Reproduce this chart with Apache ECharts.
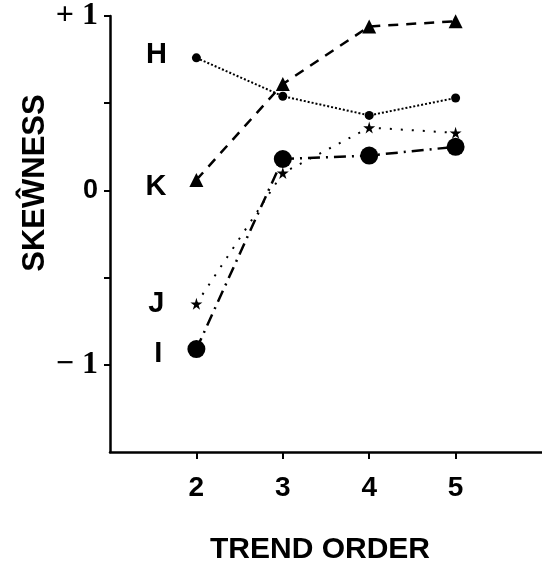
<!DOCTYPE html>
<html>
<head>
<meta charset="utf-8">
<script src="https://cdn.jsdelivr.net/npm/echarts@6/dist/echarts.min.js"></script>
<style>
html, body { margin: 0; padding: 0; background: #fff; }
#main { width: 542px; height: 570px; }
</style>
</head>
<body>
<div id="main"></div>
<script>
// trend order values on the x axis
var xTicks = [2, 3, 4, 5];
var yTicks = [-1, 0, 1];
var yMinorTicks = [-1, -0.5, 0, 0.5, 1];

// skewness for each curve
var seriesH = [0.76, 0.54, 0.43, 0.53];
var seriesK = [0.06, 0.61, 0.94, 0.97];
var seriesJ = [-0.65, 0.10, 0.36, 0.33];
var seriesI = [-0.91, 0.18, 0.20, 0.25];

var starPath = 'path://M50,0 L61,35 L98,35 L68,57 L79,91 L50,70 L21,91 L32,57 L2,35 L39,35 Z';
var fontFam = '"Liberation Sans", Arial, sans-serif';
var serifFam = '"Liberation Serif", "DejaVu Serif", serif';

function pairs(ys, name, dist, dy) {
    var out = [];
    for (var i = 0; i < ys.length; i++) {
        var item = { value: [xTicks[i], ys[i]] };
        if (i === 0) {
            item.label = {
                show: true, position: 'left', distance: dist, offset: [0, dy],
                formatter: name, color: '#000',
                fontFamily: fontFam, fontWeight: 'bold', fontSize: 29
            };
        }
        out.push(item);
    }
    return out;
}

function makeSeries(name, ys, symbol, size, lineType, width, dist, dy) {
    return {
        name: name,
        type: 'line',
        data: pairs(ys, name, dist, dy),
        symbol: symbol,
        symbolSize: size,
        itemStyle: { color: '#000' },
        lineStyle: { color: '#000', width: width, type: lineType },
        label: { show: false },
        emphasis: { disabled: true },
        animation: false
    };
}

var chart = echarts.init(document.getElementById('main'));
var option = {
    animation: false,
    grid: { left: 110, right: 0, top: 16, bottom: 118 },
    xAxis: {
        type: 'value',
        min: 1,
        max: 6,
        axisLine: { onZero: false, lineStyle: { color: '#000', width: 2.5 } },
        axisTick: { show: true, customValues: xTicks, length: 7, lineStyle: { color: '#000', width: 2 } },
        axisLabel: {
            customValues: xTicks, margin: 22, color: '#000',
            fontFamily: fontFam, fontWeight: 'bold', fontSize: 28
        },
        splitLine: { show: false }
    },
    yAxis: {
        type: 'value',
        min: -1.5,
        max: 1,
        axisLine: { show: true, lineStyle: { color: '#000', width: 2.5 } },
        axisTick: { show: true, customValues: yMinorTicks, length: 6, lineStyle: { color: '#000', width: 2 } },
        axisLabel: {
            customValues: yTicks, margin: 12, color: '#000',
            fontFamily: serifFam, fontWeight: 'bold', fontSize: 27,
            formatter: function (v) {
                if (v > 0) return '{s|+ 1}';
                if (v < 0) return '{s|\u2212 1}';
                return '{z|0}';
            },
            rich: {
                s: { fontFamily: serifFam, fontWeight: 'bold', fontSize: 32, color: '#000' },
                z: { fontFamily: fontFam, fontWeight: 'bold', fontSize: 27, color: '#000' }
            }
        },
        splitLine: { show: false }
    },
    graphic: [
        {
            type: 'text', x: 35, y: 183, rotation: Math.PI / 2,
            style: {
                text: 'SKE\u0174NESS', fill: '#000', fontFamily: fontFam,
                fontWeight: 'bold', fontSize: 31, align: 'center', verticalAlign: 'middle'
            }
        },
        {
            type: 'text', x: 320, y: 550,
            style: {
                text: 'TREND ORDER', fill: '#000', fontFamily: fontFam,
                fontWeight: 'bold', fontSize: 30, align: 'center', verticalAlign: 'middle'
            }
        }
    ],
    series: [
        makeSeries('H', seriesH, 'circle', 9, 'dotted', 2, 25, -3),
        makeSeries('K', seriesK, 'triangle', 14, [10, 8], 2.5, 23, 7),
        makeSeries('J', seriesJ, starPath, 12, [2, 9], 2, 26, 0),
        makeSeries('I', seriesI, 'circle', 18, [12, 6, 2, 6], 2.5, 25, 5)
    ]
};
chart.setOption(option);
</script>
</body>
</html>
